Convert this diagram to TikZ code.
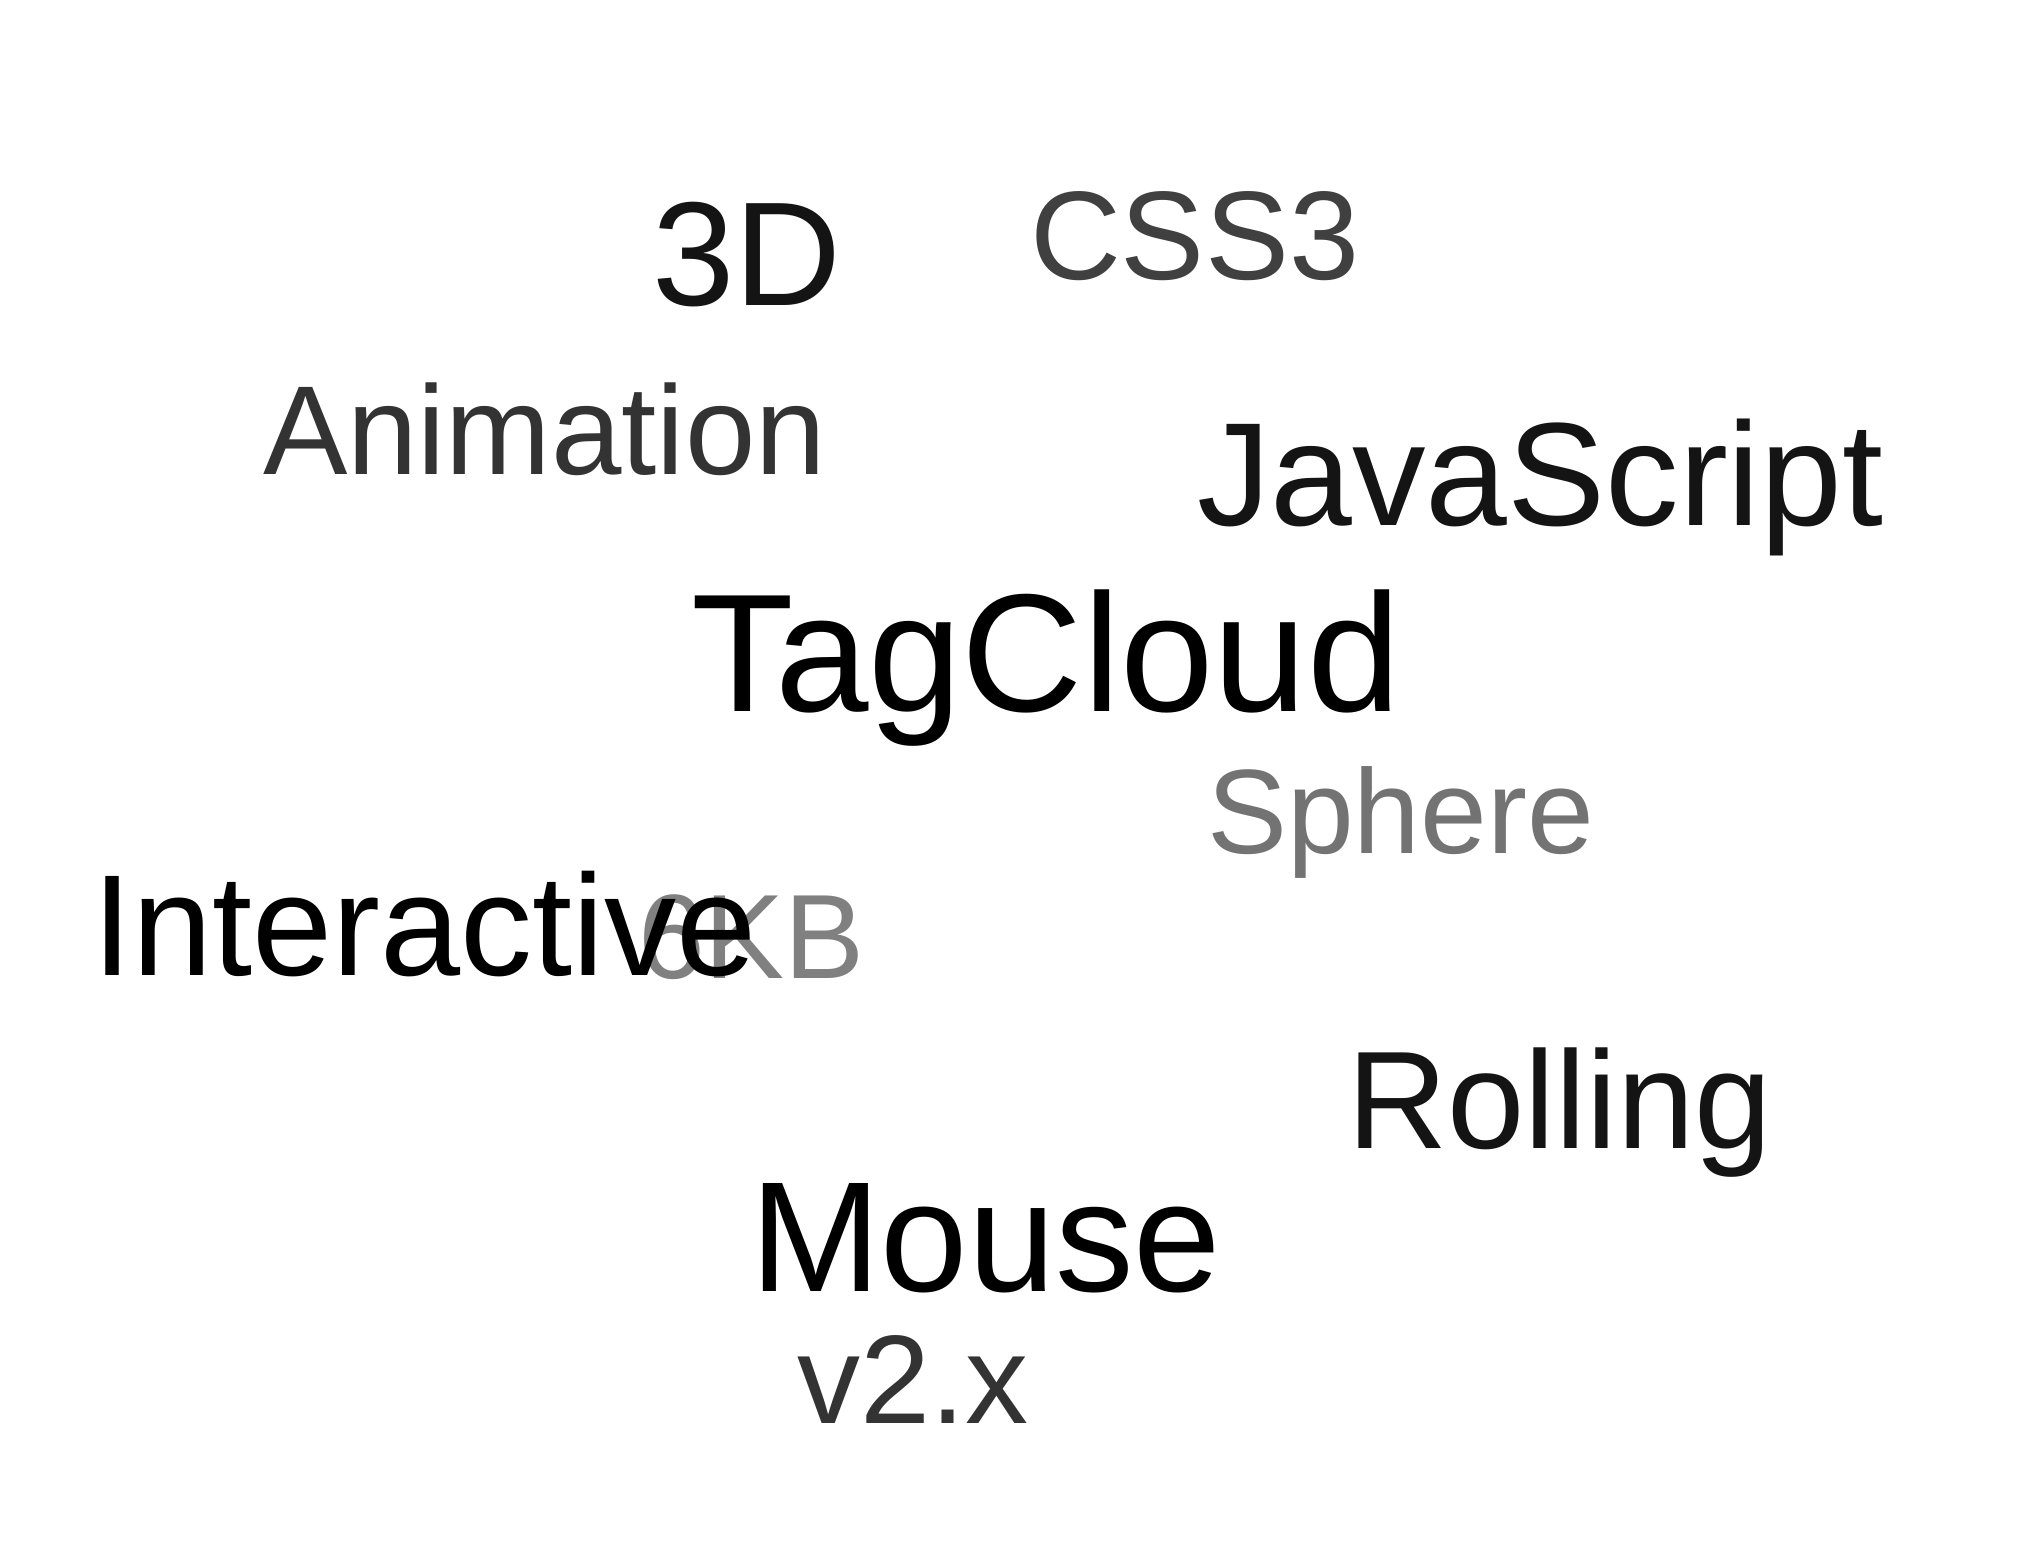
\documentclass[tikz,border=0pt]{standalone}
\usepackage{fontspec}
\setmainfont{Liberation Sans}
\begin{document}
\begin{tikzpicture}[x=0.5pt,y=-0.5pt,
  tag/.style={inner sep=0pt,outer sep=0pt,anchor=base west},
  fs/.style={font=\fontsize{#1}{#1}\selectfont}]
\useasboundingbox[fill=white] (0,0) rectangle (2034,1548);
\node[tag,fs=74,text=black!92] (t3d) at (652,305) {3D};
\node[tag,fs=63,text=black!75] (css) at (1030,279) {CSS3};
\node[tag,fs=63.3,text=black!80] (anim) at (263,474) {Animation};
\node[tag,fs=73.5,text=black!92] (js) at (1197,525) {JavaScript};
\node[tag,fs=84,text=black] (tc) at (691,711) {TagCloud};
\node[tag,fs=60,text=black!55] (sph) at (1207,853) {Sphere};
\node[tag,fs=60,text=black!50,anchor=base east] (kb) at (865,978) {6KB};
\node[tag,fs=72,text=black] (inter) at (92,975) {Interactive};
\node[tag,fs=69.5,text=black!92] (roll) at (1347,1148) {Rolling};
\node[tag,fs=78.5,text=black] (mouse) at (750,1291) {Mouse};
\node[tag,fs=63,text=black!80] (ver) at (797,1423) {v2.x};
\end{tikzpicture}
\end{document}
